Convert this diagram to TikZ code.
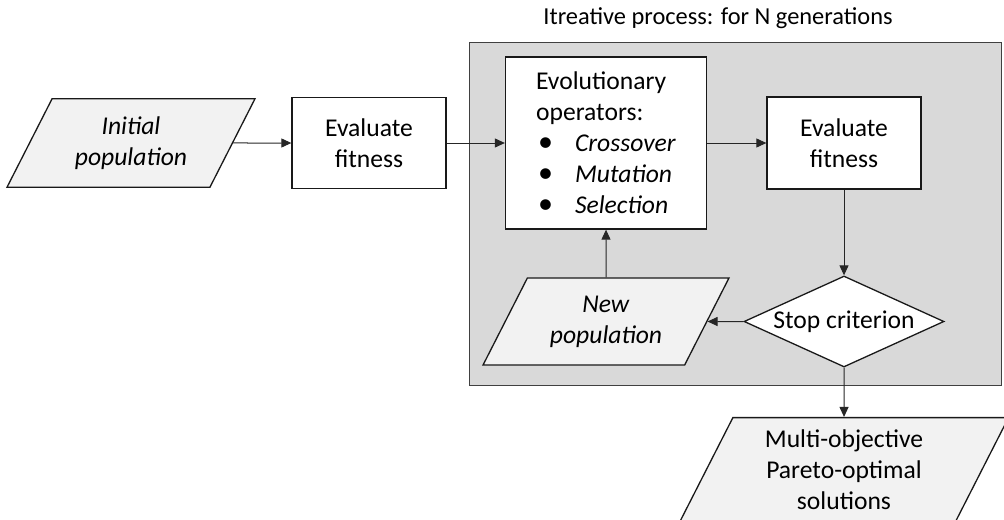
\documentclass[tikz,border=0pt]{standalone}
\usepackage{fontspec}
\setmainfont{Carlito}
\usepackage{tikz}
\usetikzlibrary{arrows.meta,shapes.geometric,positioning}
\definecolor{loopgray}{HTML}{D9D9D9}
\definecolor{datagray}{HTML}{F2F2F2}
\newcommand{\opitem}[1]{\makebox[19.5pt][l]{\hspace{1pt}{\fontsize{15}{15.5}\selectfont\textbullet}}\textit{#1}}
\tikzset{
  procbox/.style={
    rectangle, draw=black!90, line width=0.65pt, fill=white,
    align=center, inner sep=2pt
  },
  databox/.style={
    trapezium, trapezium left angle=63, trapezium right angle=117,
    trapezium stretches body,
    draw=black!90, line width=0.65pt, fill=datagray,
    align=center, inner xsep=1pt
  },
  decision/.style={
    diamond, aspect=2.2, draw=black!90, line width=0.65pt,
    fill=white, inner sep=0pt
  },
  flow/.style={line width=0.5pt, draw=black!85, -{Triangle[length=5pt,width=4.5pt]}},
  looparea/.style={draw=black!75, line width=0.5pt, fill=loopgray},
  looplabel/.style={inner sep=0pt, font=\fontsize{12.2}{14}\selectfont}
}

\begin{document}
\begin{tikzpicture}[x=0.5pt, y=-0.5pt, font=\fontsize{12.8}{15.5}\selectfont]
  \useasboundingbox (0,0) rectangle (1004,519);

  % ==== ITERATIVE LOOP (background) ====
  \draw[looparea] (469,43) rectangle (1001,385);
  \node[looplabel] (looptitle) at (718,18) {Itreative process: for N generations};

  % ==== INITIALISATION ====
  \node[databox, inner ysep=8.9pt, minimum width=124pt] (initpop) at (131,143)
    {\textit{Initial}\\\textit{population}};
  \node[procbox, minimum width=77pt, minimum height=45.5pt] (evalA) at (369,143)
    {Evaluate\\fitness};

  % ==== LOOP BODY ====
  \node[procbox, align=left, minimum width=100.5pt, minimum height=86pt] (evolops) at (606,143)
    {Evolutionary\\operators:\\\opitem{Crossover}\\\opitem{Mutation}\\\opitem{Selection}};
  \node[procbox, minimum width=77pt, minimum height=46pt] (evalB) at (844,143)
    {Evaluate\\fitness};
  \node[decision, minimum width=100pt, minimum height=45.5pt] (stopcrit) at (844,321.5)
    {Stop criterion};
  \node[databox, inner ysep=8.9pt, minimum width=123pt] (newpop) at (606,321.5)
    {\textit{New}\\\textit{population}};

  % ==== RESULT ====
  \node[databox, inner ysep=6.2pt, minimum width=164.5pt] (paretoset) at (844,470)
    {Multi-objective\\Pareto-optimal\\solutions};

  % ==== CONNECTIONS ====
  \draw[flow] (initpop.east) -- (evalA.west);
  \draw[flow] (evalA.east) -- (evolops.west);
  \draw[flow] (evolops.east) -- (evalB.west);
  \draw[flow] (evalB.south) -- (stopcrit.north);
  \draw[flow] (stopcrit.west) -- (newpop.east);
  \draw[flow] (newpop.north) -- (evolops.south);
  \draw[flow] (stopcrit.south) -- (paretoset.north);
\end{tikzpicture}
\end{document}
